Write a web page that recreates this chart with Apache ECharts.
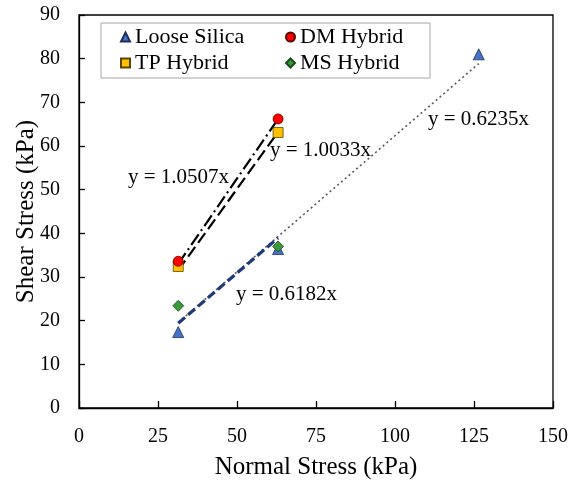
<!DOCTYPE html>
<html>
<head>
<meta charset="utf-8">
<script src="https://cdn.jsdelivr.net/npm/echarts@6/dist/echarts.min.js"></script>
<style>
  html, body { margin: 0; padding: 0; background: #fff; }
  #chart { width: 571px; height: 480px; }
</style>
</head>
<body>
<div id="chart"></div>
<script>
// Direct shear results: normal stress vs shear stress for each material
const normalStress = [31.4, 63, 126.5];
const looseSilica = [17.4, 36.4, 81];
const dmHybrid = [33.6, 66.2];
const tpHybrid = [32.4, 63.1];
const msHybrid = [23.4, 37.0];

// Linear fits through the origin (slope of y = kx)
const fitSlopes = { loose: 0.6235, dm: 1.0507, tp: 1.0033, ms: 0.6182 };
const fitLabels = ['y = 1.0507x', 'y = 1.0033x', 'y = 0.6235x', 'y = 0.6182x'];

const xTicks = [0, 25, 50, 75, 100, 125, 150];
const yTicks = [0, 10, 20, 30, 40, 50, 60, 70, 80, 90];

const FONT = '"Liberation Serif", "Times New Roman", serif';

function pairs(xs, ys) { return ys.map((y, i) => [xs[i], y]); }
function fitLine(xs, k) {
  const lo = Math.min(...xs), hi = Math.max(...xs);
  return [[lo, k * lo], [hi, k * hi]];
}

const chart = echarts.init(document.getElementById('chart'), null, { renderer: 'canvas' });

const markerSeries = (name, data, symbol, size, color, border) => ({
  name, type: 'scatter', data, symbol, symbolSize: size, z: 5,
  itemStyle: { color, borderColor: border, borderWidth: 0.8, opacity: 1 }
});

const trendSeries = (data, color, width, dash) => ({
  type: 'line', data, showSymbol: false, symbol: 'none', silent: true, z: 3,
  lineStyle: { color, width, type: dash }
});

const legendItem = (name, left, top) => ({
  data: [name], left, top, orient: 'horizontal', itemWidth: 9, itemHeight: 9, itemGap: 6,
  textStyle: { fontFamily: FONT, fontSize: 22, color: '#000', padding: [0, 0, 0, 0] },
  selectedMode: false, padding: 0
});

chart.setOption({
  animation: false,
  backgroundColor: '#fff',
  grid: {
    left: 79, right: 18, top: 15, bottom: 72, outerBoundsMode: 'none',
    show: true, borderColor: '#000', borderWidth: 1.3
  },
  xAxis: {
    type: 'value', min: xTicks[0], max: xTicks[xTicks.length - 1], interval: 25,
    name: 'Normal Stress (kPa)', nameLocation: 'middle', nameGap: 47, nameMoveOverlap: false,
    nameTextStyle: { fontFamily: FONT, fontSize: 25, color: '#000' },
    axisLine: { show: true, lineStyle: { color: '#000', width: 1.3 } },
    axisTick: { show: true, inside: true, length: 7, lineStyle: { color: '#000', width: 1.3 } },
    axisLabel: { fontFamily: FONT, fontSize: 20, color: '#000', margin: 19 },
    splitLine: { show: false }
  },
  yAxis: {
    type: 'value', min: yTicks[0], max: yTicks[yTicks.length - 1], interval: 10,
    name: 'Shear Stress (kPa)', nameLocation: 'middle', nameGap: 40, nameMoveOverlap: false,
    nameTextStyle: { fontFamily: FONT, fontSize: 25, color: '#000' },
    axisLine: { show: true, lineStyle: { color: '#000', width: 1.3 } },
    axisTick: { show: true, inside: true, length: 6, lineStyle: { color: '#000', width: 1.3 } },
    axisLabel: { fontFamily: FONT, fontSize: 20, color: '#000', margin: 19 },
    splitLine: { show: false }
  },
  legend: [
    legendItem('Loose Silica', 120, 26),
    legendItem('DM Hybrid', 285, 26),
    legendItem('TP Hybrid', 120, 52),
    legendItem('MS Hybrid', 285, 52)
  ],
  graphic: [
    { type: 'rect', shape: { x: 101, y: 23, width: 329, height: 55 }, z: 100,
      style: { fill: 'rgba(0,0,0,0)', stroke: '#a6a6a6', lineWidth: 1 } },
    { type: 'text', left: 128, top: 167, z: 100, style: { text: fitLabels[0], font: '21px ' + FONT, fill: '#000' } },
    { type: 'text', left: 270, top: 140, z: 100, style: { text: fitLabels[1], font: '21px ' + FONT, fill: '#000' } },
    { type: 'text', left: 428, top: 109, z: 100, style: { text: fitLabels[2], font: '21px ' + FONT, fill: '#000' } },
    { type: 'text', left: 236, top: 284, z: 100, style: { text: fitLabels[3], font: '21px ' + FONT, fill: '#000' } }
  ],
  series: [
    trendSeries(fitLine(normalStress, fitSlopes.loose), '#595959', 1.6, [2, 3]),
    trendSeries(fitLine(normalStress.slice(0, 2), fitSlopes.dm), '#000', 2.2, [13, 4, 2, 4]),
    trendSeries(fitLine(normalStress.slice(0, 2), fitSlopes.tp), '#000', 2.2, [12, 5]),
    trendSeries(fitLine(normalStress.slice(0, 2), fitSlopes.ms), '#1f3a7a', 3.2, [9, 4]),
    markerSeries('Loose Silica', pairs(normalStress, looseSilica), 'triangle', 11, '#4472c4', '#1f2f5a'),
    markerSeries('TP Hybrid', pairs(normalStress, tpHybrid), 'rect', 10, '#ffc000', '#5a4500'),
    markerSeries('DM Hybrid', pairs(normalStress, dmHybrid), 'circle', 10, '#ff0000', '#5a0000'),
    markerSeries('MS Hybrid', pairs(normalStress, msHybrid), 'diamond', 11, '#3a9a3a', '#1a4a1a')
  ]
});
</script>
</body>
</html>
